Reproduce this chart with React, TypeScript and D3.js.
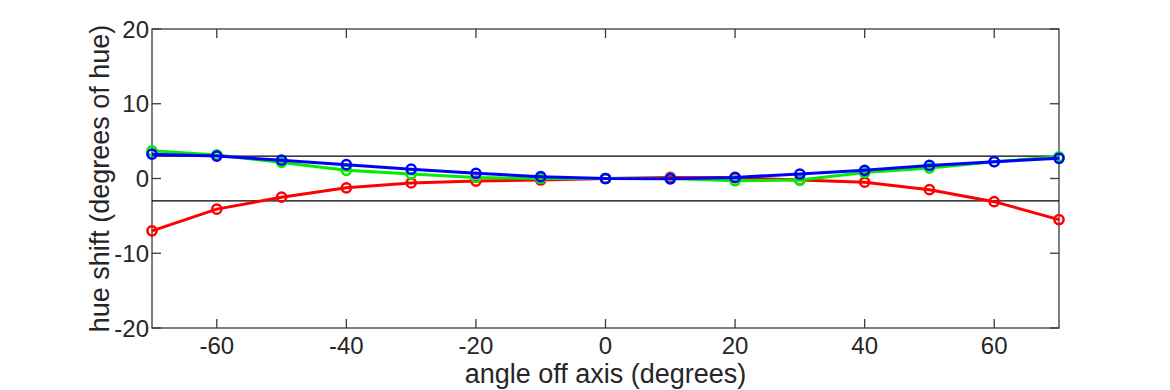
import React, { useEffect, useRef } from "react";
import * as d3 from "d3";

const angles = [-70, -60, -50, -40, -30, -20, -10, 0, 10, 20, 30, 40, 50, 60, 70];
const redValues = [-7.0, -4.1, -2.5, -1.25, -0.6, -0.35, -0.2, 0, 0.15, 0.1, -0.2, -0.5, -1.5, -3.1, -5.5];
const greenValues = [3.7, 3.15, 2.15, 1.1, 0.6, 0.15, 0, 0, 0, -0.3, -0.2, 0.8, 1.4, 2.25, 2.9];
const blueValues = [3.25, 3.0, 2.45, 1.85, 1.25, 0.7, 0.25, 0, -0.05, 0.15, 0.6, 1.1, 1.75, 2.25, 2.7];
const xTicks = [-60, -40, -20, 0, 20, 40, 60];
const yTicks = [-20, -10, 0, 10, 20];
const limitLines = [3, -3];

const series = [
  { name: "red", color: "#ff0000", values: redValues },
  { name: "green", color: "#00ee00", values: greenValues },
  { name: "blue", color: "#0000ff", values: blueValues },
];

const App = () => {
  const svgRef = useRef<SVGSVGElement>(null);
  const width = 1170;
  const height = 390;
  const margin = { top: 29, right: 111, bottom: 62, left: 152 };

  useEffect(() => {
    const svg = d3.select(svgRef.current);
    svg.selectAll("*").remove();

    const innerW = width - margin.left - margin.right;
    const innerH = height - margin.top - margin.bottom;

    const x = d3.scaleLinear().domain([-70, 70]).range([0, innerW]);
    const y = d3.scaleLinear().domain([-20, 20]).range([innerH, 0]);

    const g = svg.append("g").attr("transform", `translate(${margin.left},${margin.top})`);
    const axisColor = "#3a3a3a";
    const font = "'Liberation Sans', Arial, Helvetica, sans-serif";

    // frame
    g.append("rect")
      .attr("x", 0)
      .attr("y", 0)
      .attr("width", innerW)
      .attr("height", innerH)
      .attr("fill", "none")
      .attr("stroke", axisColor)
      .attr("stroke-width", 1.3);

    // inward ticks
    const tickLen = 9;
    xTicks.forEach((t) => {
      g.append("line").attr("x1", x(t)).attr("x2", x(t)).attr("y1", innerH).attr("y2", innerH - tickLen)
        .attr("stroke", axisColor).attr("stroke-width", 1.3);
      g.append("line").attr("x1", x(t)).attr("x2", x(t)).attr("y1", 0).attr("y2", tickLen)
        .attr("stroke", axisColor).attr("stroke-width", 1.3);
      g.append("text")
        .attr("x", x(t))
        .attr("y", innerH + 26)
        .attr("text-anchor", "middle")
        .attr("font-family", font)
        .attr("font-size", 24)
        .attr("fill", "#262626")
        .text(t);
    });

    yTicks.forEach((t) => {
      g.append("line").attr("x1", 0).attr("x2", tickLen).attr("y1", y(t)).attr("y2", y(t))
        .attr("stroke", axisColor).attr("stroke-width", 1.3);
      g.append("line").attr("x1", innerW).attr("x2", innerW - tickLen).attr("y1", y(t)).attr("y2", y(t))
        .attr("stroke", axisColor).attr("stroke-width", 1.3);
      g.append("text")
        .attr("x", -3)
        .attr("y", y(t))
        .attr("dy", "0.36em")
        .attr("text-anchor", "end")
        .attr("font-family", font)
        .attr("font-size", 24)
        .attr("fill", "#262626")
        .text(t);
    });

    // limit lines at +/-3
    limitLines.forEach((v) => {
      g.append("line")
        .attr("x1", 0)
        .attr("x2", innerW)
        .attr("y1", y(v))
        .attr("y2", y(v))
        .attr("stroke", "#000")
        .attr("stroke-width", 1.3);
    });

    const line = d3
      .line<number>()
      .x((_, i) => x(angles[i]))
      .y((d) => y(d));

    series.forEach((s) => {
      g.append("path")
        .datum(s.values)
        .attr("d", line)
        .attr("fill", "none")
        .attr("stroke", s.color)
        .attr("stroke-width", 3)
        .attr("stroke-linejoin", "round");

      g.selectAll(`.pt-${s.name}`)
        .data(s.values)
        .enter()
        .append("circle")
        .attr("class", `pt-${s.name}`)
        .attr("cx", (_, i) => x(angles[i]))
        .attr("cy", (d) => y(d))
        .attr("r", 4.6)
        .attr("fill", "none")
        .attr("stroke", s.color)
        .attr("stroke-width", 2.5);
    });

    // axis labels
    g.append("text")
      .attr("x", innerW / 2)
      .attr("y", innerH + 55)
      .attr("text-anchor", "middle")
      .attr("font-family", font)
      .attr("font-size", 27)
      .attr("fill", "#262626")
      .text("angle off axis (degrees)");

    g.append("text")
      .attr("transform", `translate(${99 - margin.left},${innerH / 2}) rotate(-90)`)
      .attr("text-anchor", "middle")
      .attr("dy", "0.36em")
      .attr("font-family", font)
      .attr("font-size", 27)
      .attr("fill", "#262626")
      .text("hue shift (degrees of hue)");
  });

  return (
    <svg
      ref={svgRef}
      width={width}
      height={height}
      style={{ position: "absolute", left: 0, top: 0, background: "#fff" }}
    ></svg>
  );
};

export default App;
